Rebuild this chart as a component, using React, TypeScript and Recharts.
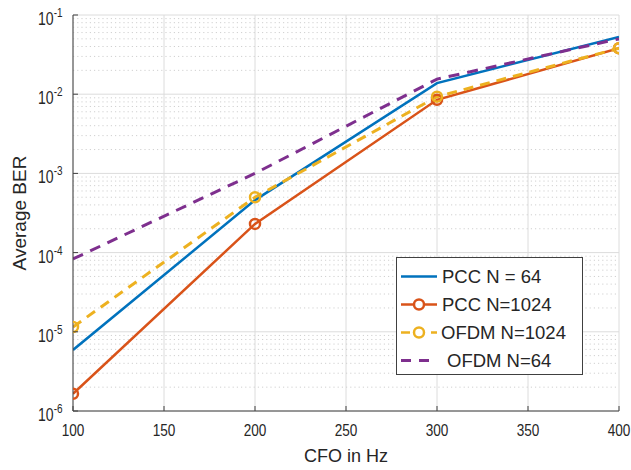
import React from 'react';
import { LineChart, Line, XAxis, YAxis, CartesianGrid, ReferenceLine } from 'recharts';

const cfo = [100, 200, 300, 400];
const pcc64 = [5.9e-6, 4.6e-4, 1.38e-2, 5.3e-2];
const pcc1024 = [1.65e-6, 2.3e-4, 8.5e-3, 3.8e-2];
const ofdm1024 = [1.15e-5, 5.0e-4, 9.3e-3, 3.8e-2];
const ofdm64 = [8.3e-5, 1.0e-3, 1.55e-2, 5.0e-2];

const xTicks = [100, 150, 200, 250, 300, 350, 400];
const yTicks = [1e-6, 1e-5, 1e-4, 1e-3, 1e-2, 1e-1];
const yTickExponents = ['-6', '-5', '-4', '-3', '-2', '-1'];
const seriesNames = ['PCC N = 64', 'PCC N=1024', 'OFDM N=1024', 'OFDM N=64'];

const data = cfo.map((c, i) => ({
  cfo: c,
  pcc64: pcc64[i],
  pcc1024: pcc1024[i],
  ofdm1024: ofdm1024[i],
  ofdm64: ofdm64[i],
}));

const minorY: number[] = [];
for (let e = -6; e < -1; e++) {
  for (let k = 2; k <= 9; k++) minorY.push(k * Math.pow(10, e));
}

const BLUE = '#0072BD';
const ORANGE = '#D95319';
const YELLOW = '#EDB120';
const PURPLE = '#7E2F8E';
const AX = '#404040';
const TXT = '#262626';
const FF = '"Liberation Sans", Arial, sans-serif';
const XM = 10;
const YM = 10;

const XTick = (p: any) => {
  const { x, y, payload } = p;
  const ay = y - XM;
  return (
    <g>
      <line x1={x} x2={x} y1={ay} y2={ay - 5} stroke={AX} />
      <text
        transform={`translate(${x},${ay + 25}) scale(0.8,1)`}
        textAnchor="middle"
        fontSize={17}
        fill={TXT}
        fontFamily={FF}
      >
        {payload.value}
      </text>
    </g>
  );
};

const YTick = (p: any) => {
  const { x, y, payload, index } = p;
  const ax = x + YM;
  const idx = yTicks.findIndex((t) => Math.abs(Math.log10(t) - Math.log10(payload.value)) < 1e-6);
  const exp = yTickExponents[idx >= 0 ? idx : index];
  return (
    <g>
      <line x1={ax} x2={ax + 5} y1={y} y2={y} stroke={AX} />
      <text
        transform={`translate(${ax - 10.5},${y + 10}) scale(0.74,1)`}
        textAnchor="end"
        fontSize={19}
        fill={TXT}
        fontFamily={FF}
      >
        <tspan>10</tspan>
        <tspan dy={-8} fontSize={13.5}>{exp}</tspan>
      </text>
    </g>
  );
};

const TopTick = (p: any) => {
  const { x, y } = p;
  return <line x1={x} x2={x} y1={y} y2={y + 5} stroke={AX} />;
};

const RightTick = (p: any) => {
  const { x, y } = p;
  return <line x1={x} x2={x - 5} y1={y} y2={y} stroke={AX} />;
};

const MinorLeftTick = (p: any) => {
  const { x, y } = p;
  return <line x1={x} x2={x + 3} y1={y} y2={y} stroke={AX} />;
};

const MinorRightTick = (p: any) => {
  const { x, y } = p;
  return <line x1={x} x2={x - 3} y1={y} y2={y} stroke={AX} />;
};

const legendRows = [
  { name: seriesNames[0], color: BLUE, dash: undefined, marker: false, width: 2.5, textX: 442 },
  { name: seriesNames[1], color: ORANGE, dash: undefined, marker: true, width: 2.5, textX: 442 },
  { name: seriesNames[2], color: YELLOW, dash: '9 6', marker: true, width: 2.5, textX: 441 },
  { name: seriesNames[3], color: PURPLE, dash: '10 8', marker: false, width: 3, textX: 447 },
];

export default function App() {
  return (
    <div style={{ position: 'absolute', left: 0, top: 0, width: 631, height: 470, background: '#fff' }}>
      <LineChart
        width={631}
        height={470}
        data={data}
        margin={{ top: 15, right: 12, left: 0, bottom: 0 }}
      >
        <CartesianGrid xAxisId="main" yAxisId="main" stroke="#dcdcdc" strokeWidth={1} />
        {minorY.map((v) => (
          <ReferenceLine
            key={v}
            xAxisId="main"
            yAxisId="main"
            y={v}
            stroke="#d0d0d0"
            strokeDasharray="1.2 3"
            strokeWidth={1}
          />
        ))}
        <XAxis
          xAxisId="main"
          dataKey="cfo"
          type="number"
          domain={[100, 400]}
          ticks={xTicks}
          interval={0}
          allowDataOverflow
          height={59}
          tickSize={0}
          tickMargin={XM}
          tickLine={false}
          axisLine={{ stroke: AX }}
          tick={(p: any) => <XTick {...p} />}
          label={{ value: 'CFO in Hz', position: 'insideBottom', offset: 8, fontSize: 18, fill: TXT, fontFamily: FF }}
        />
        <XAxis
          xAxisId="top"
          orientation="top"
          type="number"
          domain={[100, 400]}
          ticks={xTicks}
          interval={0}
          allowDataOverflow
          mirror
          height={0}
          tickSize={0}
          tickMargin={0}
          tickLine={false}
          axisLine={{ stroke: AX }}
          tick={(p: any) => <TopTick {...p} />}
        />
        <YAxis
          yAxisId="minorL"
          orientation="left"
          scale="log"
          type="number"
          domain={[1e-6, 1e-1]}
          ticks={minorY}
          interval={0}
          allowDataOverflow
          mirror
          width={0}
          tickSize={0}
          tickMargin={0}
          tickLine={false}
          axisLine={false}
          tick={(p: any) => <MinorLeftTick {...p} />}
        />
        <YAxis
          yAxisId="minorR"
          orientation="right"
          scale="log"
          type="number"
          domain={[1e-6, 1e-1]}
          ticks={minorY}
          interval={0}
          allowDataOverflow
          mirror
          width={0}
          tickSize={0}
          tickMargin={0}
          tickLine={false}
          axisLine={false}
          tick={(p: any) => <MinorRightTick {...p} />}
        />
        <YAxis
          yAxisId="main"
          orientation="left"
          scale="log"
          type="number"
          domain={[1e-6, 1e-1]}
          ticks={yTicks}
          interval={0}
          allowDataOverflow
          width={73}
          tickSize={0}
          tickMargin={YM}
          tickLine={false}
          axisLine={{ stroke: AX }}
          tick={(p: any) => <YTick {...p} />}
          label={{
            value: 'Average BER',
            angle: -90,
            position: 'insideLeft',
            offset: 19,
            fontSize: 19,
            fill: TXT,
            fontFamily: FF,
            style: { textAnchor: 'middle' },
          }}
        />
        <YAxis
          yAxisId="right"
          orientation="right"
          scale="log"
          type="number"
          domain={[1e-6, 1e-1]}
          ticks={yTicks}
          interval={0}
          allowDataOverflow
          mirror
          width={0}
          tickSize={0}
          tickMargin={0}
          tickLine={false}
          axisLine={{ stroke: AX }}
          tick={(p: any) => <RightTick {...p} />}
        />
        <Line
          xAxisId="main"
          yAxisId="main"
          dataKey="pcc64"
          stroke={BLUE}
          strokeWidth={2.5}
          dot={false}
          isAnimationActive={false}
        />
        <Line
          xAxisId="main"
          yAxisId="main"
          dataKey="pcc1024"
          stroke={ORANGE}
          strokeWidth={2.5}
          dot={{ r: 5, fill: 'none', stroke: ORANGE, strokeWidth: 2.5 }}
          isAnimationActive={false}
        />
        <Line
          xAxisId="main"
          yAxisId="main"
          dataKey="ofdm1024"
          stroke={YELLOW}
          strokeWidth={3}
          strokeDasharray="10 7"
          dot={{ r: 5, fill: 'none', stroke: YELLOW, strokeWidth: 2.5, strokeDasharray: '' }}
          isAnimationActive={false}
        />
        <Line
          xAxisId="main"
          yAxisId="main"
          dataKey="ofdm64"
          stroke={PURPLE}
          strokeWidth={3}
          strokeDasharray="11 8"
          dot={false}
          isAnimationActive={false}
        />
      </LineChart>
      <svg
        width={631}
        height={470}
        style={{ position: 'absolute', left: 0, top: 0, pointerEvents: 'none' }}
      >
        <rect x={396.5} y={257.5} width={186} height={117} fill="#fff" stroke={AX} strokeWidth={1} />
        {legendRows.map((r, i) => {
          const cy = 276.5 + i * 28;
          return (
            <g key={r.name}>
              <line
                x1={401}
                x2={437}
                y1={cy}
                y2={cy}
                stroke={r.color}
                strokeWidth={r.width}
                strokeDasharray={r.dash}
              />
              {r.marker && (
                <circle cx={419} cy={cy} r={5} fill="#fff" stroke={r.color} strokeWidth={2.5} />
              )}
              <text x={r.textX} y={cy + 6.5} fontSize={18.5} fill={TXT} fontFamily={FF}>
                {r.name}
              </text>
            </g>
          );
        })}
      </svg>
    </div>
  );
}
